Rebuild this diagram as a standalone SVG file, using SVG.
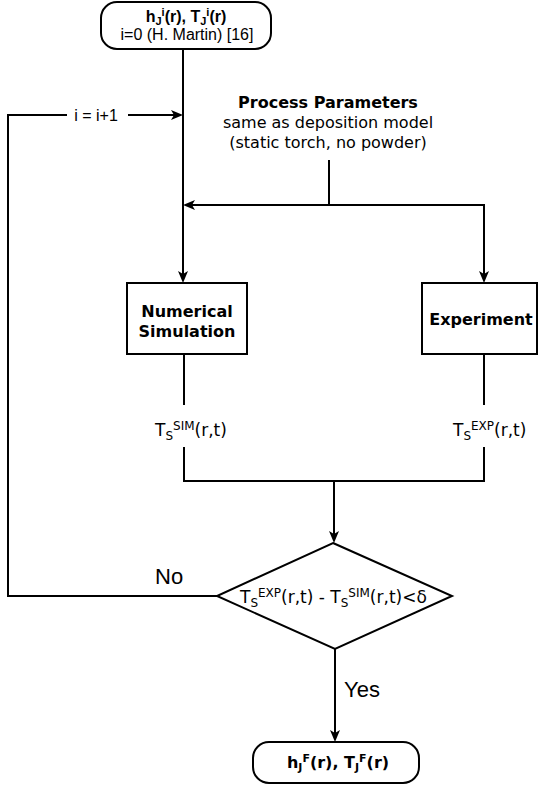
<svg xmlns="http://www.w3.org/2000/svg" width="538" height="787" viewBox="0 0 538 787">
<style>
.shape{fill:#fff;stroke:#000;stroke-width:2}
.ln{fill:none;stroke:#000;stroke-width:2}
.arw{marker-end:url(#arrow)}
.ar{font-family:"Liberation Sans",Arial,sans-serif;fill:#000}
.dv{font-family:"DejaVu Sans",Verdana,sans-serif;fill:#000}
.b{font-weight:bold}
</style>
<defs>
<marker id="arrow" markerUnits="userSpaceOnUse" markerWidth="12" markerHeight="10" refX="9" refY="5" orient="auto">
<path d="M0,0 L12,5 L0,10 L3,5 Z" fill="#000"/>
</marker>
</defs>
<rect width="538" height="787" fill="#fff"/>
<g id="connectors">
<path class="ln arw" d="M183,49 L183,280"/>
<path class="ln" d="M329,160 L329,205"/>
<path class="ln arw" d="M329,205 L186,205"/>
<path class="ln arw" d="M329,205 L484,205 L484,280"/>
<path class="ln" d="M217,596 L8,596 L8,115 L67,115"/>
<path class="ln arw" d="M128,115 L180,115"/>
<text class="ar" x="96" y="121" font-size="16" text-anchor="middle">i = i+1</text>
<path class="ln" d="M184,354 L184,405"/>
<path class="ln" d="M184,447 L184,481 L484,481 L484,447"/>
<path class="ln" d="M484,354 L484,405"/>
<path class="ln arw" d="M334,481 L334,540"/>
<path class="ln arw" d="M335,649 L335,739"/>
<text class="ar" x="155" y="584" font-size="22">No</text>
<text class="ar" x="344" y="697" font-size="22">Yes</text>
<text class="dv" x="155" y="436" font-size="17">T<tspan font-size="12" dy="4">S</tspan><tspan font-size="12" dy="-10">SIM</tspan><tspan dy="6">(r,t)</tspan></text>
<text class="dv" x="453" y="436" font-size="17">T<tspan font-size="12" dy="4">S</tspan><tspan font-size="12" dy="-10">EXP</tspan><tspan dy="6">(r,t)</tspan></text>
</g>
<g id="start">
<rect class="shape" x="101" y="2" width="170" height="47" rx="16"/>
<text class="ar b" x="186" y="22" font-size="16" text-anchor="middle">h<tspan font-size="11" dy="3">J</tspan><tspan font-size="11" dy="-9">i</tspan><tspan dy="6">(r), T</tspan><tspan font-size="11" dy="3">J</tspan><tspan font-size="11" dy="-9">i</tspan><tspan dy="6">(r)</tspan></text>
<text class="ar" x="187" y="40" font-size="16" text-anchor="middle">i=0 (H. Martin) [16]</text>
</g>
<g id="process-parameters">
<text class="dv b" x="328" y="108" font-size="16" text-anchor="middle">Process Parameters</text>
<text class="dv" x="328" y="128" font-size="16" text-anchor="middle">same as deposition model</text>
<text class="dv" x="328" y="148" font-size="16" text-anchor="middle">(static torch, no powder)</text>
</g>
<g id="simulation">
<rect class="shape" x="127" y="283" width="120" height="71"/>
<text class="dv b" x="187" y="317" font-size="16" text-anchor="middle">Numerical</text>
<text class="dv b" x="187" y="337" font-size="16" text-anchor="middle">Simulation</text>
</g>
<g id="experiment">
<rect class="shape" x="422" y="283" width="115" height="71"/>
<text class="dv b" x="481" y="325" font-size="16" text-anchor="middle">Experiment</text>
</g>
<g id="decision">
<polygon class="shape" points="333,543 452,596 335,649 217,596"/>
<text class="dv" x="240" y="603" font-size="17">T<tspan font-size="12" dy="4">S</tspan><tspan font-size="12" dy="-10">EXP</tspan><tspan dy="6">(r,t) - T</tspan><tspan font-size="12" dy="4">S</tspan><tspan font-size="12" dy="-10">SIM</tspan><tspan dy="6">(r,t)&lt;δ</tspan></text>
</g>
<g id="end">
<rect class="shape" x="253" y="742" width="166" height="41" rx="16"/>
<text class="dv b" x="338" y="768" font-size="16" text-anchor="middle">h<tspan font-size="11" dy="3">J</tspan><tspan font-size="11" dy="-9">F</tspan><tspan dy="6">(r), T</tspan><tspan font-size="11" dy="3">J</tspan><tspan font-size="11" dy="-9">F</tspan><tspan dy="6">(r)</tspan></text>
</g>
</svg>
